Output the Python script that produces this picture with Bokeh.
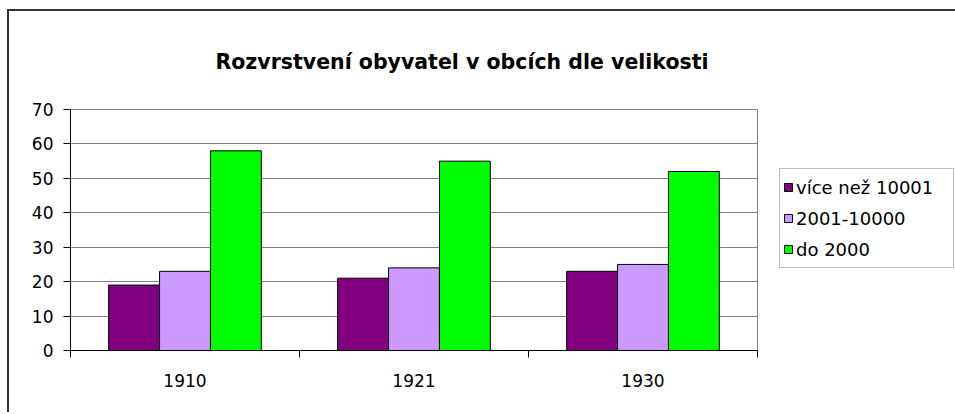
from bokeh.plotting import figure
from bokeh.models import ColumnDataSource, FixedTicker, Legend, LegendItem, Range1d
from bokeh.transform import dodge
from bokeh.embed import file_html
from bokeh.resources import INLINE

# ---- data ----
years = ["1910", "1921", "1930"]
series_names = ["více než 10001", "2001-10000", "do 2000"]
over_10001 = [19, 21, 23]
from_2001_to_10000 = [23, 24, 25]
up_to_2000 = [58, 55, 52]
series_colors = ["#800080", "#CC99FF", "#00FF00"]
y_ticks = [0, 10, 20, 30, 40, 50, 60, 70]
title_text = "Rozvrstvení obyvatel v obcích dle velikosti"

FONT = "DejaVu Sans"

n_cat = len(years)
centers = [i + 0.5 for i in range(n_cat)]
bar_w = 1.0 / (len(series_names) + 1.5)
offsets = [(j - (len(series_names) - 1) / 2) * bar_w for j in range(len(series_names))]

src = ColumnDataSource(dict(x=centers, a=over_10001, b=from_2001_to_10000, c=up_to_2000))

p = figure(frame_width=687, frame_height=241, output_backend="svg", toolbar_location=None,
           x_range=Range1d(0, n_cat), y_range=Range1d(y_ticks[0], y_ticks[-1]),
           min_border_left=61, min_border_right=196, min_border_top=98, min_border_bottom=62)
p.background_fill_color = "white"
p.border_fill_color = "white"
p.outline_line_color = "#808080"
p.outline_line_width = 1
p.styles = {"border-top": "2px solid #333333", "border-left": "2px solid #333333",
            "margin-left": "7px", "margin-top": "9px"}

# title
p.title.text = title_text
p.title.text_font = FONT
p.title.text_font_style = "bold"
p.title.text_font_size = "20.5px"
p.title.text_color = "black"
p.title.align = "left"
p.title.offset = 145
p.title.vertical_align = "bottom"
p.title.standoff = 72

renderers = []
for col, off, color in zip(["a", "b", "c"], offsets, series_colors):
    r = p.vbar(x=dodge("x", off, range=p.x_range), top=col, width=bar_w, source=src,
               fill_color=color, line_color="black", line_width=1)
    renderers.append(r)

# x axis
xa = p.xaxis[0]
xa.ticker = FixedTicker(ticks=centers, minor_ticks=list(range(n_cat + 1)))
xa.major_label_overrides = {c: y for c, y in zip(centers, years)}
xa.major_tick_line_color = None
xa.major_tick_out = 0
xa.major_tick_in = 0
xa.minor_tick_line_color = "black"
xa.minor_tick_out = 7
xa.minor_tick_in = 0
xa.axis_line_color = "black"
xa.major_label_standoff = 16
xa.major_label_text_font = FONT
xa.major_label_text_font_size = "17px"
xa.major_label_text_color = "black"

# y axis
ya = p.yaxis[0]
ya.ticker = FixedTicker(ticks=y_ticks)
ya.major_tick_out = 7
ya.major_tick_in = 0
ya.major_tick_line_color = "black"
ya.minor_tick_line_color = None
ya.axis_line_color = "black"
ya.major_label_standoff = 10
ya.major_label_text_font = FONT
ya.major_label_text_font_size = "17px"
ya.major_label_text_color = "black"

p.xgrid.visible = False
p.ygrid.ticker = FixedTicker(ticks=y_ticks)
p.ygrid.grid_line_color = "#808080"
p.ygrid.grid_line_width = 1

legend = Legend(items=[LegendItem(label=n, renderers=[r]) for n, r in zip(series_names, renderers)],
                location=(22, 82), orientation="vertical", margin=0,
                padding=3, spacing=1, label_height=30, label_width=154,
                glyph_width=10, glyph_height=10, label_standoff=3,
                label_text_font=FONT, label_text_font_size="18px", label_text_color="black",
                border_line_color="#808080", border_line_width=1,
                background_fill_color="white", background_fill_alpha=1.0)
p.add_layout(legend, "right")

open("out.html", "w").write(file_html(p, INLINE))
